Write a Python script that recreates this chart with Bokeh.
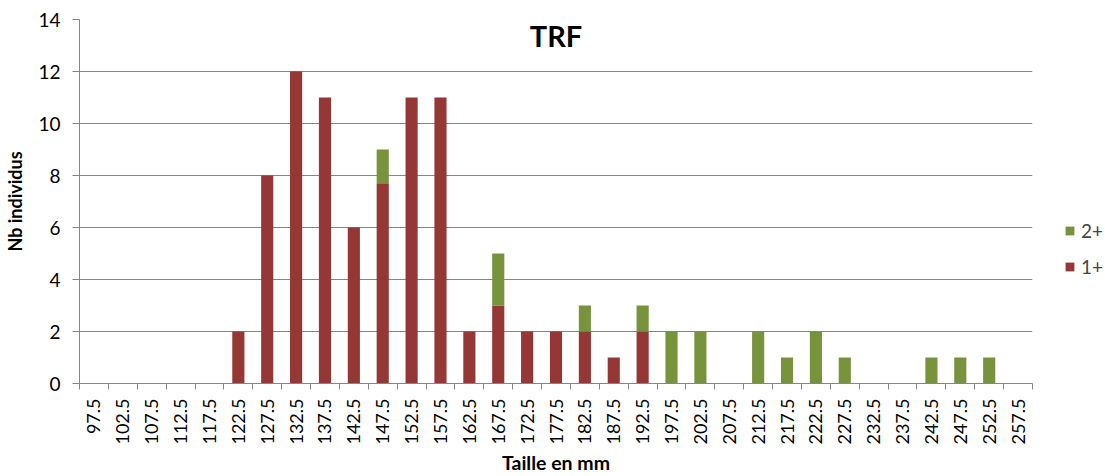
import math
from bokeh.plotting import figure
from bokeh.models import FixedTicker, Legend, LegendItem, Label, ColumnDataSource, Range1d
from bokeh.embed import file_html
from bokeh.resources import INLINE

sizes = [97.5, 102.5, 107.5, 112.5, 117.5, 122.5, 127.5, 132.5, 137.5, 142.5,
         147.5, 152.5, 157.5, 162.5, 167.5, 172.5, 177.5, 182.5, 187.5, 192.5,
         197.5, 202.5, 207.5, 212.5, 217.5, 222.5, 227.5, 232.5, 237.5, 242.5,
         247.5, 252.5, 257.5]
age1 = [0, 0, 0, 0, 0, 2, 8, 12, 11, 6,
        7.7, 11, 11, 2, 3, 2, 2, 2, 1, 2,
        0, 0, 0, 0, 0, 0, 0, 0, 0, 0,
        0, 0, 0]
age2 = [0, 0, 0, 0, 0, 0, 0, 0, 0, 0,
        1.3, 0, 0, 0, 2, 0, 0, 1, 0, 1,
        2, 2, 0, 2, 1, 2, 1, 0, 0, 1,
        1, 1, 0]
yticks = [0, 2, 4, 6, 8, 10, 12, 14]
series = ["1+", "2+"]
colors = ["#953735", "#77933C"]
step = 5.0

FONT = "Lato"
GRID = "#868686"

src = ColumnDataSource(dict(x=sizes, a1=age1, a2=age2))

p = figure(frame_width=953, frame_height=364, output_backend="svg", toolbar_location=None,
           x_range=Range1d(sizes[0] - step / 2, sizes[-1] + step / 2),
           y_range=Range1d(0, 14),
           min_border_left=79, min_border_top=19, min_border_bottom=3,
           min_border_right=0)
p.outline_line_color = None
p.background_fill_color = "white"
p.border_fill_color = "white"

r = p.vbar_stack(["a1", "a2"], x="x", width=step * 0.42, source=src,
                 color=colors, line_color=None)

# x axis: labels at centres, tick marks at category boundaries
bounds = [s - step / 2 for s in sizes] + [sizes[-1] + step / 2]
p.xaxis.ticker = FixedTicker(ticks=sizes, minor_ticks=bounds)
p.xaxis.major_label_overrides = {s: ("%.1f" % s) for s in sizes}
p.xaxis.major_label_orientation = math.pi / 2
p.xaxis.major_tick_line_color = None
p.xaxis.major_tick_out = 6
p.xaxis.minor_tick_line_color = GRID
p.xaxis.minor_tick_out = 6
p.xaxis.minor_tick_in = 0
p.xaxis.axis_line_color = GRID
p.xaxis.major_label_text_font = FONT
p.xaxis.major_label_text_font_size = "18px"
p.xaxis.major_label_text_color = "#000000"
p.xaxis.major_label_standoff = 9
p.xaxis.axis_label = "Taille en mm"
p.xaxis.axis_label_text_font = FONT
p.xaxis.axis_label_text_font_size = "19.5px"
p.xaxis.axis_label_text_font_style = "bold"
p.xaxis.axis_label_text_color = "#000000"
p.xaxis.axis_label_standoff = 3

p.yaxis.ticker = FixedTicker(ticks=yticks)
p.yaxis.minor_tick_line_color = None
p.yaxis.major_tick_line_color = GRID
p.yaxis.major_tick_out = 7
p.yaxis.major_tick_in = 0
p.yaxis.axis_line_color = GRID
p.yaxis.major_label_text_font = FONT
p.yaxis.major_label_text_font_size = "19px"
p.yaxis.major_label_text_color = "#000000"
p.yaxis.major_label_standoff = 12
p.yaxis.axis_label = "Nb individus"
p.yaxis.axis_label_text_font = FONT
p.yaxis.axis_label_text_font_size = "18px"
p.yaxis.axis_label_text_font_style = "bold"
p.yaxis.axis_label_text_color = "#000000"
p.yaxis.axis_label_standoff = 9

p.xgrid.grid_line_color = None
p.ygrid.grid_line_color = GRID
p.ygrid.grid_line_width = 1

title = Label(x=(sizes[0] + sizes[-1]) / 2, y=13.4, text="TRF",
              text_font=FONT, text_font_size="29px", text_font_style="bold",
              text_align="center", text_baseline="middle", text_color="#000000")
p.add_layout(title)

legend = Legend(items=[LegendItem(label=series[1], renderers=[r[1]]),
                       LegendItem(label=series[0], renderers=[r[0]])],
                location=(32, 105), orientation="vertical",
                glyph_width=11, glyph_height=11, spacing=13,
                label_text_font=FONT, label_text_font_size="19px",
                label_standoff=6, border_line_color=None,
                background_fill_alpha=0, padding=0, margin=0)
p.add_layout(legend, "right")

open("out.html", "w").write(file_html(p, INLINE))
